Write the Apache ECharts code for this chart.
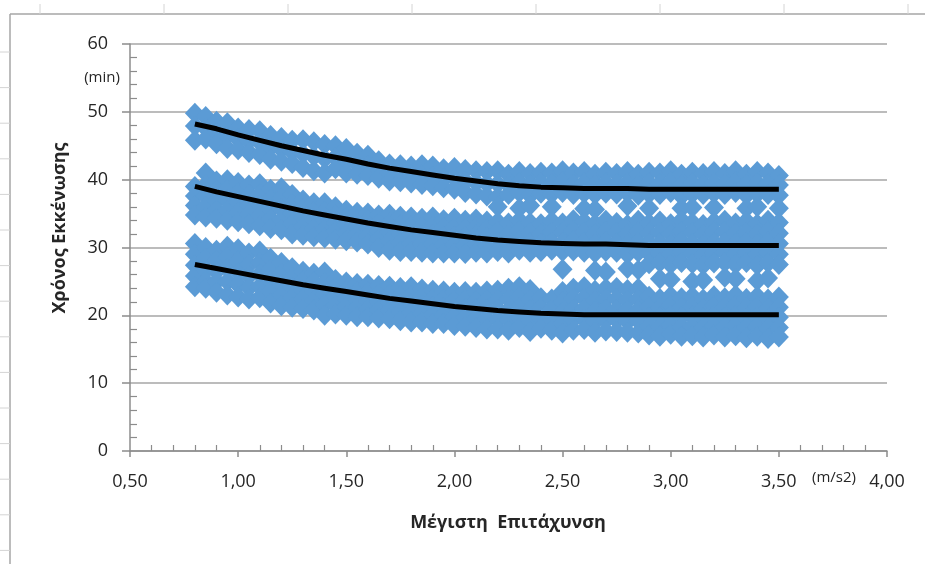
<!DOCTYPE html>
<html>
<head>
<meta charset="utf-8">
<script src="https://cdn.jsdelivr.net/npm/echarts@6/dist/echarts.min.js"></script>
<style>
  html, body { margin: 0; padding: 0; background: #fff; }
  #chart { width: 925px; height: 564px; }
</style>
</head>
<body>
<div id="chart"></div>
<script>
// x positions of the scatter columns (Μέγιστη Επιτάχυνση, m/s2)
const xs = [0.80, 0.85, 0.90, 0.95, 1.00, 1.05, 1.10, 1.15, 1.20, 1.25, 1.30, 1.35, 1.40, 1.45,
  1.50, 1.55, 1.60, 1.65, 1.70, 1.75, 1.80, 1.85, 1.90, 1.95, 2.00, 2.05, 2.10, 2.15, 2.20,
  2.25, 2.30, 2.35, 2.40, 2.45, 2.50, 2.55, 2.60, 2.65, 2.70, 2.75, 2.80, 2.85, 2.90, 2.95,
  3.00, 3.05, 3.10, 3.15, 3.20, 3.25, 3.30, 3.35, 3.40, 3.45, 3.50];

// evacuation times (min) per column, upper group
const topBand = [
  [49.8, 47.9, 45.8], [49.3, 47.6, 46.0], [48.6, 47.0, 45.3], [48.4, 46.5, 44.6], [47.6, 46.0, 44.4],
  [47.4, 45.7, 44.0], [47.2, 45.5, 43.7], [46.5, 44.8, 43.0], [46.2, 44.5, 42.7], [45.8, 44.1, 42.4],
  [45.9, 43.8, 41.8], [45.6, 43.4, 41.3], [45.2, 43.1, 41.0], [45.0, 43.3, 41.6], [44.6, 42.8, 41.0],
  [43.9, 42.3, 40.8], [43.6, 42.1, 40.6], [42.8, 41.5, 40.2], [42.3, 41.0, 39.8], [42.2, 40.9, 39.7],
  [42.0, 40.7, 39.5], [42.2, 40.7, 39.3], [42.0, 40.5, 39.1], [41.6, 40.2, 38.8], [41.8, 40.2, 38.6],
  [41.5, 39.8, 38.1], [41.3, 39.6, 37.9], [41.2, 39.4, 37.6], [41.3, 39.4, 37.5, 36.0],
  [40.8, 39.2, 37.8], [41.2, 39.6, 38.1, 35.8], [40.9, 39.3, 37.7, 36.2], [41.1, 39.6, 38.0], [41.0, 39.4, 37.9, 36.0],
  [41.3, 39.7, 38.1], [41.0, 39.3, 37.8], [41.2, 39.6, 38.0, 35.7], [40.8, 39.3, 37.8, 35.6], [41.1, 39.5, 38.0],
  [40.9, 39.4, 37.9], [41.2, 39.6, 38.0, 36.1], [40.8, 39.2, 37.7], [41.1, 39.5, 37.9, 35.8], [41.0, 39.4, 37.8],
  [41.3, 39.7, 38.1], [40.8, 39.2, 37.6, 35.8], [41.1, 39.5, 37.9, 35.9], [40.9, 39.3, 37.8], [41.2, 39.6, 38.0, 35.9],
  [40.9, 39.4, 37.8], [41.3, 39.7, 38.1], [40.8, 39.3, 37.7, 35.8], [41.2, 39.5, 37.9, 36.0], [41.0, 39.4, 37.8],
  [40.6, 39.2, 37.7, 35.8]
];

// middle group
const midBand = [
  [39.0, 37.6, 36.2, 34.8], [41.0, 39.2, 37.6, 36.0, 34.5], [39.8, 38.4, 36.9, 35.5, 34.3],
  [40.0, 38.5, 37.0, 35.5, 34.0], [39.6, 38.1, 36.6, 35.2, 33.8], [39.2, 37.8, 36.2, 34.9, 33.5],
  [39.4, 37.9, 36.3, 34.7, 33.2], [38.6, 37.1, 35.6, 34.2, 32.8], [38.8, 37.3, 35.7, 34.1, 32.6],
  [37.8, 36.4, 35.0, 33.5, 32.0], [37.0, 35.7, 34.4, 33.1, 31.8], [36.6, 35.3, 34.1, 32.8, 31.6],
  [36.6, 35.3, 34.0, 32.7, 31.4], [36.0, 34.8, 33.6, 32.4, 31.2], [35.5, 34.4, 33.3, 32.1, 31.0],
  [35.2, 34.1, 33.0, 31.9, 30.8], [35.1, 34.0, 32.8, 31.7, 30.5], [34.8, 33.6, 32.4, 31.2, 30.0],
  [34.9, 33.6, 32.3, 31.0, 29.6], [34.6, 33.3, 32.0, 30.7, 29.4], [34.5, 33.2, 31.9, 30.6, 29.4],
  [34.3, 33.1, 31.8, 30.5, 29.3], [34.5, 33.2, 31.9, 30.5, 29.2], [34.1, 32.9, 31.7, 30.4, 29.2],
  [34.3, 33.0, 31.7, 30.4, 29.2], [34.0, 32.8, 31.6, 30.3, 29.1], [34.2, 33.0, 31.8, 30.5, 29.3],
  [33.9, 32.7, 31.5, 30.3, 29.2], [33.8, 32.4, 30.9, 29.4],
  [33.6, 32.0, 30.5, 29.2], [34.0, 32.5, 31.0, 29.6], [33.7, 32.2, 30.7, 29.3], [33.5, 32.0, 30.6, 29.4],
  [33.9, 32.3, 30.8, 29.6], [33.6, 32.2, 30.7, 29.4, 26.8], [34.1, 32.5, 31.0, 29.5], [33.8, 32.3, 30.8, 29.3],
  [33.5, 32.0, 30.6, 29.2, 26.6], [34.0, 32.4, 30.9, 29.4, 26.4], [33.7, 32.2, 30.7, 29.3], [33.4, 32.0, 30.5, 29.0, 26.9],
  [34.0, 32.4, 30.8, 29.3, 26.7], [33.6, 32.1, 30.6, 29.1, 27.6], [33.9, 32.3, 30.7, 29.2, 27.8, 25.4],
  [33.5, 32.0, 30.5, 29.0, 27.5, 25.3], [34.0, 32.4, 30.9, 29.3, 27.8], [33.7, 32.2, 30.6, 29.1, 27.6, 25.0],
  [33.4, 31.9, 30.4, 28.9, 27.4, 25.2], [33.8, 32.3, 30.7, 29.2, 27.7], [34.0, 32.4, 30.8, 29.3, 27.8, 25.6],
  [33.6, 32.1, 30.6, 29.0, 27.5, 25.4], [33.9, 32.3, 30.8, 29.3, 27.8], [33.5, 32.0, 30.5, 29.0, 27.4, 25.1],
  [34.0, 32.4, 30.9, 29.3, 27.7, 25.5], [33.7, 32.1, 30.6, 29.0, 27.5]
];

// lower group
const lowBand = [
  [30.6, 29.0, 27.4, 25.8, 24.2], [30.0, 28.4, 26.6, 25.0, 24.0], [29.6, 28.1, 26.5, 25.0, 23.4],
  [30.2, 28.6, 26.9, 25.0, 23.0], [29.8, 28.0, 26.3, 24.5, 22.7], [29.2, 27.5, 25.8, 24.1, 22.4],
  [29.5, 27.8, 26.1, 24.3, 22.6], [28.4, 26.8, 25.1, 23.5, 21.8], [27.8, 26.2, 24.6, 23.0, 21.4],
  [27.0, 25.6, 24.1, 22.6, 21.2], [26.5, 25.1, 23.7, 22.4, 21.0], [26.2, 24.9, 23.5, 22.2, 20.8],
  [26.4, 24.8, 23.2, 21.6, 20.0], [25.3, 24.1, 22.8, 21.5, 20.2], [24.9, 23.7, 22.5, 21.3, 20.0],
  [24.7, 23.5, 22.3, 21.1, 19.8], [24.6, 23.4, 22.1, 20.9, 19.8], [24.4, 23.2, 22.0, 20.8, 19.6],
  [24.3, 23.1, 21.9, 20.7, 19.5], [24.1, 22.9, 21.7, 20.5, 19.2], [24.2, 22.9, 21.7, 20.4, 19.0],
  [23.9, 22.7, 21.5, 20.3, 19.0], [23.7, 22.5, 21.3, 20.1, 18.8], [23.6, 22.4, 21.2, 20.0, 18.8],
  [23.4, 22.2, 21.0, 19.8, 18.5], [23.5, 22.3, 21.0, 19.7, 18.4], [23.4, 22.1, 20.9, 19.5, 18.2],
  [23.6, 22.3, 20.9, 19.5, 18.0], [23.7, 22.3, 20.9, 19.4, 18.0],
  [24.0, 22.4, 20.8, 19.3, 17.8], [24.2, 22.7, 21.2, 19.7, 18.2], [23.8, 22.3, 20.8, 19.2, 17.6],
  [22.6, 21.1, 19.6, 18.1], [22.4, 20.9, 19.4, 17.8], [23.5, 22.0, 20.4, 18.8, 17.4],
  [24.0, 22.5, 20.9, 19.4, 17.8], [24.2, 22.6, 21.0, 19.5, 17.9], [23.7, 22.2, 20.6, 19.1, 17.5],
  [24.0, 22.4, 20.9, 19.3, 17.7], [24.1, 22.5, 20.9, 19.3, 17.6], [23.8, 22.2, 20.7, 19.1, 17.5],
  [24.0, 22.4, 20.8, 19.2, 17.4], [22.8, 21.3, 19.8, 18.4, 17.1], [22.5, 21.1, 19.7, 18.3, 16.9],
  [22.9, 21.5, 20.0, 18.6, 17.2], [22.6, 21.2, 19.8, 18.3, 16.9], [22.8, 21.3, 19.9, 18.4, 17.0],
  [22.4, 21.0, 19.6, 18.2, 16.8], [22.9, 21.4, 20.0, 18.5, 17.1], [22.6, 21.2, 19.7, 18.3, 16.8],
  [23.0, 21.5, 20.0, 18.5, 17.0], [22.5, 21.1, 19.6, 18.2, 16.7], [22.8, 21.3, 19.8, 18.3, 16.9],
  [22.4, 21.0, 19.5, 18.1, 16.6], [22.7, 21.2, 19.7, 18.2, 16.8]
];

// trend lines
const trendX = [0.8, 0.9, 1.0, 1.1, 1.2, 1.3, 1.4, 1.5, 1.6, 1.7, 1.8, 1.9, 2.0, 2.1,
  2.2, 2.3, 2.4, 2.5, 2.6, 2.7, 2.8, 2.9, 3.0, 3.1, 3.2, 3.3, 3.4, 3.5];
const trendTop = [48.2, 47.5, 46.6, 45.8, 45.0, 44.3, 43.6, 43.0, 42.3, 41.7, 41.2, 40.7, 40.2, 39.8,
  39.4, 39.1, 38.9, 38.8, 38.7, 38.7, 38.7, 38.6, 38.6, 38.6, 38.6, 38.6, 38.6, 38.6];
const trendMid = [39.0, 38.2, 37.5, 36.8, 36.1, 35.4, 34.8, 34.2, 33.6, 33.1, 32.6, 32.2, 31.8, 31.4,
  31.1, 30.9, 30.7, 30.6, 30.5, 30.5, 30.4, 30.3, 30.3, 30.3, 30.3, 30.3, 30.3, 30.3];
const trendLow = [27.5, 26.9, 26.3, 25.7, 25.1, 24.5, 24.0, 23.5, 23.0, 22.5, 22.1, 21.7, 21.3, 21.0,
  20.7, 20.5, 20.3, 20.2, 20.1, 20.1, 20.1, 20.1, 20.1, 20.1, 20.1, 20.1, 20.1, 20.1];

const FONT = '"Open Sans", "Noto Sans", "DejaVu Sans", sans-serif';
const AXIS = '#8c8c8c';
const TXT = '#262626';

const points = [];
[topBand, midBand, lowBand].forEach(band => {
  band.forEach((col, i) => col.forEach(y => points.push([xs[i], y])));
});
const pairs = ys => trendX.map((x, i) => [x, ys[i]]);

const chart = echarts.init(document.getElementById('chart'));

// spreadsheet cell marks round the chart frame
const cellTicks = [];
for (let k = 0; k < 8; k++) {
  const x = 40 + 124 * k;
  cellTicks.push({ type: 'line', shape: { x1: x, y1: 4, x2: x, y2: 14 }, style: { stroke: '#d4d4d4', lineWidth: 1 }, silent: true });
}
for (let k = 0; k < 15; k++) {
  const y = 52 + 35.6 * k;
  cellTicks.push({ type: 'line', shape: { x1: 0, y1: y, x2: 10, y2: y }, style: { stroke: '#d4d4d4', lineWidth: 1 }, silent: true });
}

const option = {
  animation: false,
  backgroundColor: '#fff',
  grid: { left: 130, right: 38, top: 44, bottom: 113 },
  xAxis: [
    {
      type: 'value', min: 0.5, max: 4, interval: 0.5,
      axisLine: { show: true, onZero: false, lineStyle: { color: AXIS, width: 1.5 } },
      axisTick: { show: true, length: 6, lineStyle: { color: AXIS, width: 1.5 } },
      axisLabel: { formatter: v => v.toFixed(2).replace('.', ','), fontSize: 18, color: TXT, margin: 22, fontFamily: FONT },
      splitLine: { show: false }
    },
    {
      type: 'value', min: 0.5, max: 4, interval: 0.5, position: 'bottom',
      axisLine: { show: false },
      axisTick: { show: false, inside: true },
      minorTick: { show: true, splitNumber: 5, length: 6, lineStyle: { color: AXIS, width: 1.2 } },
      axisLabel: { show: false },
      splitLine: { show: false }
    }
  ],
  yAxis: [
    {
      type: 'value', min: 0, max: 60, interval: 10,
      axisLine: { show: true, lineStyle: { color: AXIS, width: 1.5 } },
      axisTick: { show: true, length: 8, lineStyle: { color: AXIS, width: 1.5 } },
      axisLabel: { fontSize: 18, color: TXT, margin: 22, fontFamily: FONT },
      splitLine: { show: true, lineStyle: { color: '#a6a6a6', width: 1.5 } }
    },
    {
      type: 'value', min: 0, max: 60, interval: 10, position: 'left',
      axisLine: { show: false },
      axisTick: { show: false, inside: true },
      minorTick: { show: true, splitNumber: 5, length: 7, lineStyle: { color: AXIS, width: 1.2 } },
      axisLabel: { show: false },
      splitLine: { show: false }
    }
  ],
  series: [
    {
      type: 'scatter', data: points, symbol: 'diamond', symbolSize: [20, 21],
      itemStyle: { color: '#5b9bd5', opacity: 1 }, silent: true
    },
    { type: 'line', data: pairs(trendTop), showSymbol: false, lineStyle: { color: '#000', width: 5 } },
    { type: 'line', data: pairs(trendMid), showSymbol: false, lineStyle: { color: '#000', width: 5 } },
    { type: 'line', data: pairs(trendLow), showSymbol: false, lineStyle: { color: '#000', width: 5 } }
  ],
  graphic: [
    { type: 'line', shape: { x1: 10, y1: 14, x2: 925, y2: 14 }, style: { stroke: '#a6a6a6', lineWidth: 1.5 }, silent: true },
    { type: 'line', shape: { x1: 10, y1: 14, x2: 10, y2: 564 }, style: { stroke: '#a6a6a6', lineWidth: 1.5 }, silent: true },
    ...cellTicks,
    {
      type: 'text', x: 60, y: 228, rotation: Math.PI / 2,
      style: { text: 'Χρόνος Εκκένωσης', font: 'bold 18px ' + FONT, fill: TXT, align: 'center', verticalAlign: 'middle' }
    },
    {
      type: 'text', x: 508, y: 523,
      style: { text: 'Μέγιστη  Επιτάχυνση', font: 'bold 18px ' + FONT, fill: TXT, align: 'center', verticalAlign: 'middle' }
    },
    {
      type: 'text', x: 102, y: 78,
      style: { text: '(min)', font: '15px ' + FONT, fill: TXT, align: 'center', verticalAlign: 'middle' }
    },
    {
      type: 'text', x: 834, y: 478,
      style: { text: '(m/s2)', font: '15px ' + FONT, fill: TXT, align: 'center', verticalAlign: 'middle' }
    }
  ]
};
chart.setOption(option);
</script>
</body>
</html>
